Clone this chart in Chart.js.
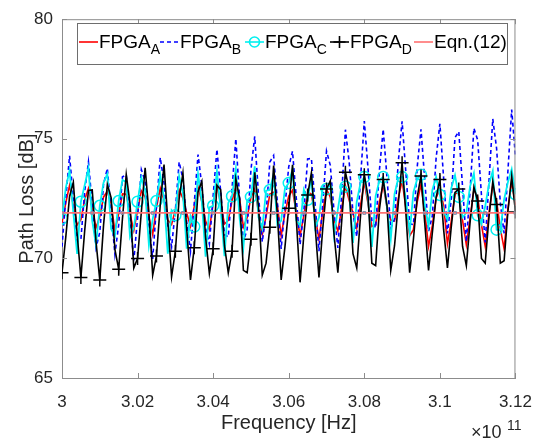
<!DOCTYPE html>
<html>
<head>
<meta charset="utf-8">
<script src="https://cdn.jsdelivr.net/npm/chart.js@4.4.1/dist/chart.umd.min.js"></script>
<style>
  html, body { margin: 0; padding: 0; background: #fff; }
  #wrap { width: 546px; height: 443px; }
</style>
</head>
<body>
<div id="wrap"><canvas id="c" width="546" height="443"></canvas></div>
<script>
// frequency axis in units of 1e11 Hz, one sample every 0.001
const fStart = 3.0, fStep = 0.001;

// path loss [dB]
const fpgaA = [
  71.50, 72.32, 73.05, 72.22, 71.40,  71.62, 72.45, 72.93, 72.10, 71.28,
  71.75, 72.57, 72.80, 72.30, 71.15,  71.87, 72.70, 72.68, 71.86, 71.17,
  72.00, 72.82, 72.56, 71.73, 71.00,  72.12, 72.94, 72.43, 71.61, 71.42,
  72.04, 72.87, 72.51, 71.90, 71.34,  72.16, 72.99, 72.38, 71.56, 71.20,
  72.29, 73.08, 72.26, 71.44, 71.59,  72.41, 72.96, 72.50, 71.31, 71.71,
  72.55, 72.90, 71.95, 71.00, 71.75,  72.69, 72.76, 72.20, 70.94, 71.89,
  72.61, 72.85, 71.89, 70.95, 71.80,  72.75, 72.70, 71.76, 70.80, 71.94,
  72.89, 72.56, 71.61, 71.14, 72.09,  73.03, 72.42, 71.90, 71.28, 72.23,
  73.18, 72.28, 71.33, 71.42, 72.37,  73.08, 72.13, 71.60, 71.56, 72.51,
  73.26, 72.11, 70.95, 71.20, 72.35,  73.09, 71.93, 70.50, 71.37, 72.53,
  72.91, 72.20, 70.61, 71.55, 72.70,  72.75, 71.59, 70.57, 71.72, 72.87,
  72.57, 71.41, 70.50, 71.89, 73.05,  72.40, 71.24, 70.40, 72.07, 73.22,
  72.22
];
const fpgaB = [
  70.49, 72.50, 74.29, 72.50, 70.71,  70.79, 72.80, 74.03, 72.23, 70.44,
  71.09, 73.11, 73.76, 71.96, 70.17,  71.40, 73.41, 73.49, 71.70, 69.91,
  71.70, 73.71, 73.22, 71.43, 69.98,  72.20, 74.22, 73.15, 71.36, 70.49,
  72.01, 74.03, 73.32, 71.53, 70.30,  72.31, 74.34, 73.05, 71.26, 70.60,
  72.61, 74.56, 72.78, 70.99, 70.90,  72.92, 75.00, 72.51, 70.72, 71.21,
  73.70, 75.10, 72.64, 70.69, 71.84,  74.03, 74.30, 72.34, 70.40, 72.17,
  73.83, 74.48, 72.52, 70.58, 71.97,  74.16, 74.18, 72.24, 70.30, 72.30,
  74.49, 73.89, 71.95, 70.44, 72.63,  75.38, 74.03, 71.90, 70.91, 73.33,
  75.74, 73.72, 71.58, 71.27, 73.69,  75.40, 73.39, 71.26, 71.64, 74.06,
  75.73, 73.59, 71.45, 71.41, 73.82,  75.40, 73.27, 71.13, 71.77, 74.18,
  75.63, 73.34, 71.04, 72.47, 75.05,  75.30, 73.00, 70.70, 72.86, 75.44,
  74.95, 72.65, 70.67, 73.25, 75.83,  74.61, 72.31, 71.05, 73.64, 76.22,
  74.26
];
const fpgaC = [
  71.66, 72.95, 73.67, 71.92, 70.19,  72.37, 73.06, 73.78, 71.57, 70.56,
  72.20, 73.17, 73.53, 71.23, 70.92,  72.40, 73.28, 73.19, 70.89, 71.28,
  72.37, 73.38, 72.84, 70.55, 71.64,  72.40, 73.49, 72.50, 70.20, 72.01,
  71.80, 73.43, 72.71, 70.41, 71.78,  71.33, 73.53, 72.36, 70.07, 72.13,
  72.20, 73.64, 72.02, 70.09, 72.32,  72.60, 73.75, 71.67, 70.45, 72.42,
  72.57, 73.85, 71.72, 71.24, 72.83,  72.86, 73.53, 71.40, 71.58, 72.93,
  73.15, 73.72, 71.59, 71.37, 72.87,  72.45, 73.40, 71.29, 71.71, 72.97,
  72.90, 73.09, 70.97, 72.04, 73.06,  73.00, 72.77, 70.65, 72.37, 73.16,
  73.40, 72.45, 70.48, 72.60, 73.27,  73.40, 72.13, 70.81, 72.70, 73.36,
  73.40, 72.50, 71.07, 72.77, 73.32,  73.50, 72.24, 71.35, 72.85, 73.40,
  72.65, 71.97, 71.63, 72.93, 73.48,  72.57, 71.71, 71.91, 73.02, 73.56,
  71.80, 71.44, 72.19, 73.10, 73.65,  71.20, 71.17, 72.47, 73.18, 73.73,
  72.68
];
const fpgaD = [
  69.40, 70.89, 72.59, 73.18, 71.03,  69.20, 71.15, 72.84, 72.86, 70.70,
  69.10, 71.40, 73.09, 72.54, 70.38,  69.55, 71.67, 73.51, 72.29, 69.60,
  70.00, 71.95, 73.79, 71.93, 69.30,  70.10, 72.23, 73.92, 71.58, 69.23,
  70.30, 72.50, 73.57, 71.23, 69.10,  70.45, 72.78, 73.22, 70.88, 69.37,
  70.40, 73.06, 72.87, 70.53, 69.40,  70.30, 73.33, 72.51, 69.50, 69.40,
  70.80, 73.60, 72.16, 69.30, 69.80,  71.30, 73.88, 71.81, 69.10, 70.48,
  72.10, 73.91, 71.66, 69.00, 70.98,  72.65, 73.58, 71.33, 69.20, 71.24,
  72.90, 73.24, 70.99, 69.40, 71.51,  73.60, 72.90, 70.20, 69.60, 71.78,
  73.50, 72.56, 69.80, 69.70, 72.04,  73.30, 72.22, 69.50, 70.53, 72.31,
  74.00, 71.89, 69.40, 70.80, 72.56,  73.45, 71.47, 69.50, 71.07, 72.54,
  73.30, 71.19, 69.60, 71.29, 72.76,  72.90, 70.50, 69.70, 71.52, 72.98,
  72.40, 70.00, 69.80, 71.74, 73.21,  72.25, 69.80, 69.90, 71.96, 73.43,
  71.94
];
const eqnValue = 71.9;

const xTicks = [3, 3.02, 3.04, 3.06, 3.08, 3.1, 3.12];
const yTicks = [65, 70, 75, 80];

const freq = fpgaA.map((_, i) => +(fStart + i * fStep).toFixed(3));
const pts = arr => arr.map((v, i) => ({ x: freq[i], y: v }));

const FONT = "'Liberation Sans', Arial, sans-serif";
const AXIS_COL = '#8c8c8c';
const TEXT_COL = '#262626';
const CYAN = '#00f0f0';
const EQN_COL = '#ff7070';

// box, inward ticks, axis titles and legend (MATLAB look)
const decor = {
  id: 'decor',
  afterDraw(chart) {
    const ctx = chart.ctx;
    const a = chart.chartArea;
    const xs = chart.scales.x, ys = chart.scales.y;
    ctx.save();
    ctx.strokeStyle = AXIS_COL;
    ctx.lineWidth = 1;
    ctx.beginPath();
    ctx.moveTo(a.left, a.top + 0.5); ctx.lineTo(a.right, a.top + 0.5);
    ctx.moveTo(a.right - 0.5, a.top); ctx.lineTo(a.right - 0.5, a.bottom);
    xTicks.forEach(t => {
      const px = Math.round(xs.getPixelForValue(t)) + 0.5;
      ctx.moveTo(px, a.bottom); ctx.lineTo(px, a.bottom - 5);
      ctx.moveTo(px, a.top); ctx.lineTo(px, a.top + 5);
    });
    yTicks.forEach(t => {
      const py = Math.round(ys.getPixelForValue(t)) + 0.5;
      ctx.moveTo(a.left, py); ctx.lineTo(a.left + 5, py);
      ctx.moveTo(a.right, py); ctx.lineTo(a.right - 5, py);
    });
    ctx.stroke();

    ctx.fillStyle = TEXT_COL;
    ctx.font = '20px ' + FONT;
    ctx.textAlign = 'center';
    ctx.textBaseline = 'alphabetic';
    ctx.fillText('Frequency [Hz]', (a.left + a.right) / 2, 429);
    ctx.save();
    ctx.translate(33, (a.top + a.bottom) / 2);
    ctx.rotate(-Math.PI / 2);
    ctx.fillText('Path Loss [dB]', 0, 0);
    ctx.restore();

    ctx.textAlign = 'left';
    ctx.font = '18px ' + FONT;
    ctx.fillText('\u00d710', 471, 438);
    ctx.font = '14px ' + FONT;
    ctx.fillText('11', 507, 430);

    // legend
    ctx.fillStyle = '#fff';
    ctx.fillRect(77, 23, 430, 41);
    ctx.strokeStyle = '#6e6e6e';
    ctx.strokeRect(77.5, 23.5, 430, 41);
    const items = [
      { x: 79, label: 'FPGA', sub: 'A', color: '#ff0000', dash: [] },
      { x: 160, label: 'FPGA', sub: 'B', color: '#0000ff', dash: [4, 3] },
      { x: 245, label: 'FPGA', sub: 'C', color: CYAN, dash: [], marker: 'circle' },
      { x: 330, label: 'FPGA', sub: 'D', color: '#000000', dash: [], marker: 'cross' },
      { x: 414, label: 'Eqn.(12)', sub: '', color: EQN_COL, dash: [] }
    ];
    const ly = 42, base = 48;
    items.forEach(it => {
      ctx.strokeStyle = it.color;
      ctx.lineWidth = 1.6;
      ctx.setLineDash(it.dash);
      ctx.beginPath();
      ctx.moveTo(it.x, ly); ctx.lineTo(it.x + 19, ly);
      ctx.stroke();
      ctx.setLineDash([]);
      const mx = it.x + 9.5;
      if (it.marker === 'circle') {
        ctx.beginPath(); ctx.arc(mx, ly, 5, 0, Math.PI * 2); ctx.stroke();
      } else if (it.marker === 'cross') {
        ctx.beginPath();
        ctx.moveTo(mx - 6, ly); ctx.lineTo(mx + 6, ly);
        ctx.moveTo(mx, ly - 6); ctx.lineTo(mx, ly + 6);
        ctx.stroke();
      }
      ctx.fillStyle = '#000';
      ctx.font = '19px ' + FONT;
      const tx = it.x + 20;
      ctx.fillText(it.label, tx, base);
      if (it.sub) {
        const w = ctx.measureText(it.label).width;
        ctx.font = '14px ' + FONT;
        ctx.fillText(it.sub, tx + w, base + 6);
      }
    });
    ctx.restore();
  }
};

const everyN = n => c => (c.dataIndex % n === 0 ? 1 : 0);

new Chart(document.getElementById('c'), {
  type: 'line',
  data: {
    datasets: [
      {
        label: 'FPGA_A', data: pts(fpgaA), order: 5,
        borderColor: '#ff0000', borderWidth: 1.6, pointRadius: 0, tension: 0
      },
      {
        label: 'FPGA_B', data: pts(fpgaB), order: 4,
        borderColor: '#0000ff', borderWidth: 1.6, borderDash: [4, 3], pointRadius: 0, tension: 0
      },
      {
        label: 'FPGA_C', data: pts(fpgaC), order: 3,
        borderColor: CYAN, borderWidth: 1.8, tension: 0,
        pointStyle: 'circle', pointRadius: c => everyN(5)(c) * 5.5,
        pointBorderColor: CYAN, pointBackgroundColor: 'rgba(0,0,0,0)', pointBorderWidth: 1.5
      },
      {
        label: 'FPGA_D', data: pts(fpgaD), order: 2,
        borderColor: '#000000', borderWidth: 1.6, tension: 0,
        pointStyle: 'cross', pointRadius: c => everyN(5)(c) * 6.5,
        pointBorderColor: '#000000', pointBorderWidth: 1.5
      },
      {
        label: 'Eqn.(12)', data: freq.map(f => ({ x: f, y: eqnValue })), order: 1,
        borderColor: EQN_COL, borderWidth: 1.8, tension: 0,
        pointStyle: 'rect', pointRadius: c => everyN(8)(c) * 2,
        pointBorderColor: '#7a90b0', pointBackgroundColor: 'rgba(0,0,0,0)', pointBorderWidth: 1
      }
    ]
  },
  options: {
    responsive: false,
    animation: false,
    devicePixelRatio: 1,
    layout: { padding: { top: 16, right: 23, left: 0, bottom: 0 } },
    plugins: { legend: { display: false }, tooltip: { enabled: false } },
    scales: {
      x: {
        type: 'linear', min: 3, max: 3.12,
        afterFit: s => { s.height = 65; },
        afterBuildTicks: s => { s.ticks = xTicks.map(v => ({ value: v })); },
        grid: { display: false, drawTicks: false },
        border: { display: true, color: AXIS_COL, width: 1 },
        ticks: {
          padding: 14, color: TEXT_COL, maxRotation: 0, autoSkip: false,
          font: { family: FONT, size: 17 },
          callback: v => String(parseFloat(v.toFixed(2)))
        }
      },
      y: {
        min: 65, max: 80,
        afterFit: s => { s.width = 62; },
        afterBuildTicks: s => { s.ticks = yTicks.map(v => ({ value: v })); },
        grid: { display: false, drawTicks: false },
        border: { display: true, color: AXIS_COL, width: 1 },
        ticks: {
          padding: 9, color: TEXT_COL,
          font: { family: FONT, size: 17 },
          callback: v => String(v)
        }
      }
    }
  },
  plugins: [decor]
});
</script>
</body>
</html>
